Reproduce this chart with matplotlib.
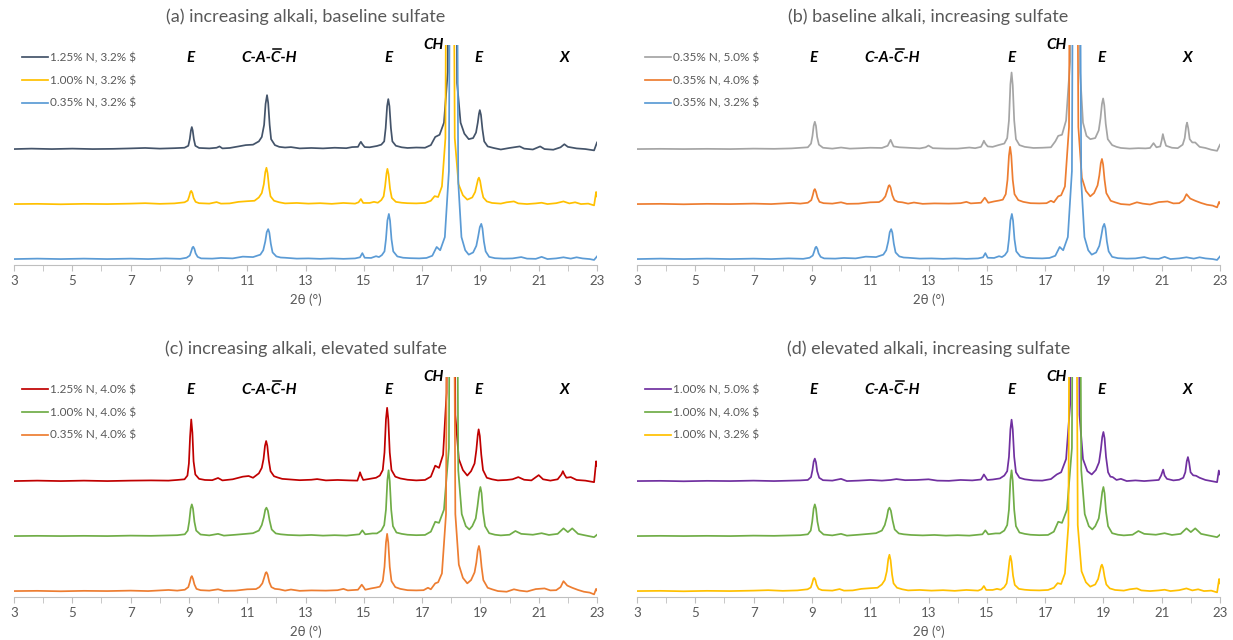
import numpy as np
import matplotlib
matplotlib.use("Agg")
import matplotlib.pyplot as plt
from matplotlib.lines import Line2D
from matplotlib.transforms import IdentityTransform
from matplotlib.font_manager import FontProperties

plt.rcParams["font.family"] = ["Lato", "DejaVu Sans"]

# intensity above each trace's own baseline (arbitrary units)
n125_s32 = [(3.0, 0.0), (3.6, 0.2), (4.3, 0.0), (5.0, 0.2), (5.7, 0.0), (6.4, 0.1), (7.0, 0.3), (7.5, 0.5),
            (8.0, 0.2), (8.5, 0.4), (8.85, 0.6), (8.98, 1.5), (9.03, 4.5), (9.07, 8.5), (9.1, 10.0), (9.13, 8.5),
            (9.17, 4.5), (9.22, 1.5), (9.35, 0.5), (9.7, 0.3), (9.95, 0.6), (10.05, 1.2), (10.15, 0.3),
            (10.4, 0.5), (10.7, 1.2), (10.95, 1.8), (11.2, 2.0), (11.4, 3.5), (11.5, 5.5), (11.58, 11.0),
            (11.63, 20.5), (11.68, 24.5), (11.72, 21.0), (11.77, 11.0), (11.82, 4.5), (11.95, 1.8), (12.1, 1.0),
            (12.3, 0.7), (12.5, 0.9), (12.8, 0.3), (13.2, 0.5), (13.6, 0.3), (14.0, 0.6), (14.4, 0.4), (14.6, 0.9),
            (14.8, 1.0), (14.86, 2.5), (14.9, 3.3), (14.95, 2.2), (15.03, 0.9), (15.2, 0.8), (15.45, 1.4),
            (15.6, 2.0), (15.7, 3.5), (15.75, 9.5), (15.8, 19.5), (15.84, 22.7), (15.88, 19.5), (15.93, 9.5),
            (15.98, 3.5), (16.1, 1.5), (16.3, 0.8), (16.5, 0.5), (16.8, 0.7), (17.1, 0.6), (17.3, 1.8),
            (17.45, 5.5), (17.6, 6.5), (17.75, 12.0), (17.88, 35.0), (17.97, 300.0), (18.1, 300.0), (18.2, 30.0),
            (18.32, 12.0), (18.45, 7.0), (18.6, 4.5), (18.75, 5.0), (18.85, 7.5), (18.91, 12.0), (18.95, 16.0),
            (18.98, 17.7), (19.02, 15.5), (19.07, 9.0), (19.13, 3.5), (19.25, 1.2), (19.45, 0.5), (19.7, -0.2),
            (20.0, 0.5), (20.35, 1.2), (20.5, 0.2), (20.8, -0.2), (21.05, 1.2), (21.2, 0.0), (21.5, -0.3),
            (21.75, 0.8), (21.88, 2.2), (22.0, 1.0), (22.3, 0.3), (22.6, 0.0), (22.9, -0.6), (23.0, 3.0)]

n100_s32 = [(3.0, 0.0), (3.8, 0.1), (4.6, -0.1), (5.4, 0.1), (6.2, 0.0), (7.0, 0.2), (7.5, 0.4), (8.0, 0.1),
            (8.5, 0.3), (8.85, 0.8), (8.96, 1.6), (9.01, 3.5), (9.05, 5.5), (9.08, 6.0), (9.12, 5.0), (9.16, 2.8),
            (9.23, 1.0), (9.35, 0.4), (9.7, 0.2), (9.95, 0.9), (10.1, 0.2), (10.4, 0.3), (10.7, 1.0), (11.0, 1.3),
            (11.25, 1.5), (11.4, 3.0), (11.5, 5.0), (11.57, 9.0), (11.62, 14.5), (11.66, 16.5), (11.7, 14.0),
            (11.75, 7.5), (11.8, 3.5), (11.92, 1.5), (12.1, 0.8), (12.3, 0.3), (12.7, 0.5), (13.1, 0.2),
            (13.5, 0.4), (13.9, 0.1), (14.3, 0.5), (14.7, 0.2), (14.82, 0.8), (14.9, 2.3), (14.98, 0.5),
            (15.2, 0.5), (15.35, 1.0), (15.48, 0.6), (15.6, 1.8), (15.68, 3.5), (15.73, 8.0), (15.78, 14.0),
            (15.81, 16.0), (15.85, 13.5), (15.9, 7.0), (15.96, 2.8), (16.1, 1.0), (16.3, 0.6), (16.5, 0.4),
            (16.8, 0.3), (17.1, 0.5), (17.3, 1.5), (17.43, 3.6), (17.55, 3.2), (17.68, 8.0), (17.8, 30.0),
            (17.88, 300.0), (18.02, 300.0), (18.12, 30.0), (18.25, 9.0), (18.4, 4.0), (18.55, 2.0), (18.72, 3.0),
            (18.82, 5.5), (18.88, 9.0), (18.92, 11.3), (18.95, 12.0), (18.99, 10.5), (19.04, 6.5), (19.1, 3.0),
            (19.22, 1.2), (19.4, 0.5), (19.7, 0.2), (19.9, 0.8), (20.15, 1.2), (20.3, 0.3), (20.6, 0.0),
            (20.9, 0.3), (21.1, 0.6), (21.3, 0.0), (21.6, 0.4), (21.85, 1.2), (22.05, 0.3), (22.25, 0.8),
            (22.45, 0.0), (22.7, 0.2), (22.9, -0.6), (22.97, 5.5), (23.0, 3.5)]

n035_s32 = [(3.0, 0.0), (3.8, 0.2), (4.6, 0.0), (5.4, 0.2), (6.2, 0.0), (7.0, 0.2), (7.6, 0.0), (8.2, 0.3),
            (8.7, 0.1), (8.92, 0.6), (9.03, 1.6), (9.08, 3.5), (9.12, 5.2), (9.15, 5.6), (9.19, 4.6), (9.23, 2.6),
            (9.3, 1.0), (9.42, 0.3), (9.8, 0.2), (10.1, 0.5), (10.5, 0.3), (10.85, 1.1), (11.2, 0.9), (11.45, 2.0),
            (11.55, 4.0), (11.62, 8.0), (11.67, 12.2), (11.72, 13.6), (11.76, 12.0), (11.81, 7.0), (11.87, 3.0),
            (12.0, 1.2), (12.15, 0.7), (12.3, 0.6), (12.7, 0.2), (13.1, 0.3), (13.5, 0.1), (13.9, 0.3),
            (14.3, 0.1), (14.7, 0.3), (14.87, 0.8), (14.95, 2.7), (15.03, 0.6), (15.25, 0.5), (15.42, 1.3),
            (15.52, 0.9), (15.62, 1.8), (15.71, 3.5), (15.76, 9.0), (15.81, 17.5), (15.86, 20.5), (15.9, 17.5),
            (15.95, 9.0), (16.01, 3.5), (16.15, 1.2), (16.35, 0.6), (16.6, 0.4), (16.9, 0.3), (17.15, 0.5),
            (17.35, 1.5), (17.5, 5.5), (17.62, 4.0), (17.78, 10.0), (17.92, 40.0), (18.0, 300.0), (18.14, 300.0),
            (18.24, 35.0), (18.35, 10.0), (18.48, 4.0), (18.6, 2.0), (18.75, 3.0), (18.86, 6.0), (18.92, 10.0),
            (18.98, 14.5), (19.03, 16.0), (19.07, 14.0), (19.12, 8.0), (19.18, 3.5), (19.3, 1.0), (19.5, 0.4),
            (19.8, 0.2), (20.1, 0.3), (20.4, 0.9), (20.6, 0.2), (20.9, 0.1), (21.1, 1.0), (21.3, 0.0),
            (21.6, 0.3), (21.85, 0.8), (22.1, 0.2), (22.3, 0.8), (22.5, 0.3), (22.75, 0.0), (22.9, -0.4),
            (23.0, 1.2)]

n035_s50 = [(3.0, 0.0), (3.8, 0.1), (4.6, 0.0), (5.4, 0.1), (6.2, 0.0), (7.0, 0.2), (7.7, 0.1), (8.3, 0.3),
            (8.86, 0.8), (8.97, 2.5), (9.02, 6.0), (9.06, 10.5), (9.1, 12.4), (9.14, 10.5), (9.18, 5.5),
            (9.24, 2.0), (9.38, 0.6), (9.7, 0.2), (10.0, 0.7), (10.3, 0.2), (10.7, 0.4), (11.0, 0.6), (11.4, 0.5),
            (11.6, 1.5), (11.7, 4.2), (11.8, 1.2), (12.0, 0.8), (12.3, 0.6), (12.7, 0.3), (12.9, 0.8), (13.0, 1.6),
            (13.15, 0.4), (13.6, 0.2), (14.0, 0.2), (14.4, 0.7), (14.6, 0.4), (14.8, 1.0), (14.86, 2.5),
            (14.9, 3.8), (14.95, 2.5), (15.03, 1.2), (15.2, 1.0), (15.4, 1.8), (15.6, 2.5), (15.7, 5.0),
            (15.76, 13.0), (15.81, 29.5), (15.85, 34.8), (15.89, 29.0), (15.94, 13.0), (16.0, 4.5), (16.12, 1.8),
            (16.3, 1.0), (16.6, 0.5), (16.9, 0.6), (17.2, 0.8), (17.35, 3.5), (17.45, 6.0), (17.58, 6.5),
            (17.72, 13.0), (17.86, 40.0), (17.96, 300.0), (18.1, 300.0), (18.2, 35.0), (18.3, 12.0), (18.42, 6.0),
            (18.55, 4.5), (18.72, 5.0), (18.84, 8.5), (18.9, 14.0), (18.95, 20.5), (18.99, 23.0), (19.03, 20.0),
            (19.08, 11.5), (19.15, 4.5), (19.3, 1.8), (19.45, 1.0), (19.6, 0.5), (19.9, 0.2), (20.2, 0.4),
            (20.45, 0.3), (20.6, 0.5), (20.72, 2.7), (20.82, 0.8), (20.95, 1.2), (21.0, 4.0), (21.04, 6.8),
            (21.08, 4.5), (21.15, 1.5), (21.35, 0.6), (21.55, 0.4), (21.72, 2.0), (21.79, 5.0), (21.84, 10.5),
            (21.87, 12.0), (21.91, 9.5), (21.96, 4.5), (22.05, 3.0), (22.15, 3.0), (22.3, 1.0), (22.5, 0.5),
            (22.7, -0.3), (22.9, -0.8), (23.0, 2.0)]

n035_s40 = [(3.0, 0.0), (3.8, 0.1), (4.6, -0.1), (5.4, 0.1), (6.2, 0.0), (7.0, 0.2), (7.6, 0.0), (8.3, 0.5),
            (8.6, 0.2), (8.86, 0.6), (8.98, 1.8), (9.03, 4.0), (9.07, 6.2), (9.1, 6.8), (9.14, 5.6), (9.19, 3.0),
            (9.26, 1.0), (9.4, 0.4), (9.7, 0.2), (10.0, 0.8), (10.2, 0.1), (10.6, 0.2), (11.0, 0.8), (11.3, 0.9),
            (11.42, 1.8), (11.52, 3.5), (11.58, 6.0), (11.63, 8.2), (11.66, 8.6), (11.7, 7.5), (11.76, 4.0),
            (11.83, 1.8), (11.95, 1.0), (12.1, 0.8), (12.3, 0.2), (12.5, 0.7), (12.8, 0.1), (13.2, 0.3),
            (13.7, 0.2), (14.1, 0.4), (14.3, 1.0), (14.45, 0.3), (14.8, 0.6), (14.88, 2.0), (14.93, 2.9),
            (14.98, 2.0), (15.05, 0.6), (15.25, 1.2), (15.42, 1.6), (15.55, 2.0), (15.65, 4.5), (15.71, 11.0),
            (15.76, 22.0), (15.8, 26.0), (15.84, 22.0), (15.89, 11.0), (15.95, 4.5), (16.08, 1.8), (16.25, 1.0),
            (16.5, 0.4), (16.8, 0.3), (17.05, 0.4), (17.2, 1.5), (17.3, 0.8), (17.45, 3.5), (17.55, 4.0),
            (17.68, 8.0), (17.82, 35.0), (17.9, 300.0), (18.04, 300.0), (18.14, 35.0), (18.26, 12.0), (18.4, 6.0),
            (18.55, 3.5), (18.68, 5.0), (18.8, 8.5), (18.86, 13.0), (18.91, 18.5), (18.95, 20.5), (18.99, 18.0),
            (19.04, 11.0), (19.1, 5.0), (19.25, 1.5), (19.4, 0.8), (19.6, 0.0), (19.9, -0.3), (20.15, 0.8),
            (20.35, 0.2), (20.6, -0.2), (20.9, 0.9), (21.2, 1.2), (21.4, 0.3), (21.6, 0.4), (21.75, 1.8),
            (21.85, 4.5), (21.98, 2.5), (22.15, 1.5), (22.35, 0.5), (22.55, -0.3), (22.75, -0.7), (22.9, -1.5),
            (22.97, 1.0), (23.0, 0.3)]

n125_s40 = [(3.0, 0.0), (3.8, 0.2), (4.6, 0.0), (5.4, 0.2), (6.2, 0.0), (7.0, 0.2), (7.7, 0.3), (8.3, 0.2),
            (8.6, 0.5), (8.85, 0.8), (8.95, 2.5), (9.0, 8.0), (9.04, 20.0), (9.08, 28.0), (9.12, 22.0),
            (9.16, 9.0), (9.22, 3.0), (9.35, 1.0), (9.55, 0.5), (9.8, 0.4), (10.0, 1.4), (10.15, 0.3), (10.5, 0.8),
            (10.85, 2.0), (11.05, 2.3), (11.2, 1.5), (11.4, 3.5), (11.5, 6.0), (11.56, 10.0), (11.61, 16.0),
            (11.65, 18.2), (11.69, 16.0), (11.74, 9.5), (11.8, 4.5), (11.92, 2.2), (12.05, 1.6), (12.2, 1.0),
            (12.5, 0.7), (12.8, 0.4), (13.2, 0.6), (13.4, 0.9), (13.7, 0.3), (14.1, 0.5), (14.5, 0.3),
            (14.78, 0.2), (14.84, 2.5), (14.87, 4.0), (14.91, 2.5), (14.98, 0.5), (15.2, 1.0), (15.42, 1.5),
            (15.55, 2.5), (15.65, 5.0), (15.71, 13.0), (15.76, 28.0), (15.8, 33.3), (15.84, 28.0), (15.89, 13.0),
            (15.95, 5.0), (16.08, 2.0), (16.25, 1.2), (16.5, 0.6), (16.8, 0.3), (17.1, 0.5), (17.3, 2.0),
            (17.45, 7.0), (17.58, 6.0), (17.72, 12.0), (17.84, 40.0), (17.92, 300.0), (18.04, 300.0),
            (18.14, 30.0), (18.26, 10.0), (18.4, 5.0), (18.55, 2.5), (18.68, 4.5), (18.8, 8.0), (18.86, 14.0),
            (18.91, 21.0), (18.94, 23.5), (18.98, 20.5), (19.03, 12.0), (19.09, 5.0), (19.22, 1.5), (19.4, 0.8),
            (19.6, 0.3), (19.9, 0.5), (20.1, 0.8), (20.3, 1.8), (20.5, 0.6), (20.75, 0.3), (21.0, 2.7),
            (21.15, 0.8), (21.4, 0.2), (21.65, 0.8), (21.78, 3.0), (21.83, 4.5), (21.88, 3.0), (21.95, 1.5),
            (22.1, 1.8), (22.3, 0.5), (22.6, 0.2), (22.9, -0.5), (22.97, 9.0), (23.0, 7.0)]

n100_s40 = [(3.0, 0.0), (3.8, 0.1), (4.6, 0.0), (5.4, 0.1), (6.2, 0.0), (7.0, 0.2), (7.7, 0.1), (8.3, 0.3),
            (8.6, 0.4), (8.86, 0.8), (8.96, 2.5), (9.01, 6.5), (9.06, 12.5), (9.1, 14.4), (9.14, 12.5),
            (9.19, 6.5), (9.25, 2.5), (9.4, 0.7), (9.7, 0.3), (10.0, 1.0), (10.2, 0.2), (10.6, 0.6), (10.95, 1.0),
            (11.2, 1.3), (11.4, 2.5), (11.5, 5.0), (11.57, 8.5), (11.62, 12.0), (11.66, 12.9), (11.71, 11.5),
            (11.77, 7.0), (11.84, 3.0), (11.98, 1.2), (12.15, 0.8), (12.4, 0.5), (12.8, 0.3), (13.2, 0.5),
            (13.6, 0.2), (14.0, 0.4), (14.4, 0.2), (14.85, 0.8), (14.95, 2.6), (15.05, 0.8), (15.3, 1.2),
            (15.45, 1.2), (15.6, 2.5), (15.7, 5.0), (15.76, 12.0), (15.81, 25.5), (15.85, 29.9), (15.89, 25.0),
            (15.94, 12.0), (16.0, 4.5), (16.12, 1.6), (16.3, 1.0), (16.5, 0.6), (16.8, 0.4), (17.1, 0.5),
            (17.3, 2.0), (17.45, 6.5), (17.58, 6.0), (17.75, 12.0), (17.92, 40.0), (18.0, 300.0), (18.14, 300.0),
            (18.24, 30.0), (18.36, 10.0), (18.5, 4.5), (18.62, 3.0), (18.72, 4.5), (18.84, 8.0), (18.9, 13.5),
            (18.96, 20.0), (19.0, 22.3), (19.04, 19.5), (19.09, 11.0), (19.16, 4.5), (19.3, 1.3), (19.5, 0.6),
            (19.7, 0.3), (20.0, 0.6), (20.2, 2.3), (20.4, 1.0), (20.6, 0.8), (20.8, 0.6), (21.1, 1.3),
            (21.35, 0.5), (21.65, 1.0), (21.85, 3.5), (22.0, 1.8), (22.15, 3.5), (22.35, 1.0), (22.6, 0.3),
            (22.9, -0.5), (23.0, 0.6)]

n100_s50 = [(3.0, 0.0), (3.8, 0.1), (4.6, -0.1), (5.4, 0.1), (6.2, 0.0), (7.0, 0.2), (7.7, 0.0), (8.3, 0.2),
            (8.6, 0.3), (8.86, 0.5), (8.97, 1.8), (9.02, 5.0), (9.06, 8.8), (9.1, 10.2), (9.14, 8.5), (9.18, 4.5),
            (9.25, 1.5), (9.38, 0.4), (9.7, 0.2), (10.0, 1.0), (10.2, 0.0), (10.6, 0.2), (11.0, 0.5), (11.4, 0.2),
            (11.7, 0.5), (11.9, 0.9), (12.2, 0.4), (12.6, 0.5), (13.0, 0.8), (13.3, 0.2), (13.7, 0.1), (14.1, 0.5),
            (14.5, 0.3), (14.8, 0.7), (14.86, 2.0), (14.9, 3.0), (14.95, 2.0), (15.02, 0.5), (15.2, 0.7),
            (15.45, 1.2), (15.6, 2.5), (15.7, 4.5), (15.76, 11.0), (15.81, 23.5), (15.85, 27.9), (15.89, 23.5),
            (15.94, 11.0), (16.0, 4.0), (16.12, 1.5), (16.3, 0.8), (16.6, 0.3), (16.9, 0.2), (17.2, 0.9),
            (17.4, 3.0), (17.55, 4.0), (17.72, 10.0), (17.86, 35.0), (17.94, 300.0), (18.08, 300.0),
            (18.18, 30.0), (18.3, 10.0), (18.45, 4.5), (18.6, 3.0), (18.74, 5.0), (18.85, 8.5), (18.91, 14.0),
            (18.96, 20.0), (19.0, 22.3), (19.04, 19.5), (19.09, 11.0), (19.16, 4.0), (19.24, 2.0), (19.32, 1.8),
            (19.45, 0.5), (19.6, 1.0), (19.8, 0.0), (20.1, 0.3), (20.4, 0.0), (20.7, 0.3), (20.9, 0.5),
            (20.98, 2.5), (21.05, 5.2), (21.1, 2.5), (21.18, 1.0), (21.4, 0.3), (21.6, 0.6), (21.74, 1.5),
            (21.81, 4.0), (21.86, 9.0), (21.9, 10.9), (21.94, 8.5), (21.99, 4.0), (22.08, 2.6), (22.18, 2.4),
            (22.3, 1.5), (22.5, 0.5), (22.7, 0.0), (22.9, -0.5), (22.96, 4.8), (23.0, 3.0)]

titles = ["(a) increasing alkali, baseline sulfate", "(b) baseline alkali, increasing sulfate",
          "(c) increasing alkali, elevated sulfate", "(d) elevated alkali, increasing sulfate"]
series = [
    [(n125_s32, "1.25% N, 3.2% $"), (n100_s32, "1.00% N, 3.2% $"), (n035_s32, "0.35% N, 3.2% $")],
    [(n035_s50, "0.35% N, 5.0% $"), (n035_s40, "0.35% N, 4.0% $"), (n035_s32, "0.35% N, 3.2% $")],
    [(n125_s40, "1.25% N, 4.0% $"), (n100_s40, "1.00% N, 4.0% $"), (n035_s40, "0.35% N, 4.0% $")],
    [(n100_s50, "1.00% N, 5.0% $"), (n100_s40, "1.00% N, 4.0% $"), (n100_s32, "1.00% N, 3.2% $")],
]
colors = [["#44546A", "#FFC000", "#5B9BD5"], ["#A5A5A5", "#ED7D31", "#5B9BD5"],
          ["#C00000", "#70AD47", "#ED7D31"], ["#7030A0", "#70AD47", "#FFC000"]]
peak_pos = [9.05, 11.75, 15.85, 17.4, 18.92, 21.9]
peak_lab = ["E", "C-A-C-H", "E", "CH", "E", "X"]
offsets = [52.7, 27.7, 2.7]

GREY = "#595959"
W, H = 1233, 640
fig = plt.figure(figsize=(W / 100, H / 100), dpi=100)
lefts = [14, 637, 14, 637]
tops = [45, 45, 377, 377]
lab_font = dict(fontsize=11, fontweight="bold", fontstyle="italic", color="black")
cach_texts = []

for i in range(4):
    ax = fig.add_axes([lefts[i] / W, 1 - (tops[i] + 220) / H, 583 / W, 220 / H])
    for (tr, lab), col, off in zip(series[i], colors[i], offsets):
        arr = np.array(tr)
        ax.plot(arr[:, 0], arr[:, 1] + off, color=col, lw=1.25, label=lab)
    ax.set_xlim(3, 23)
    ax.set_ylim(0, 100)
    for s in ("top", "left", "right"):
        ax.spines[s].set_visible(False)
    ax.spines["bottom"].set_color("#BFBFBF")
    ax.set_yticks([])
    ax.set_xticks(range(3, 24, 2))
    ax.set_xticks(range(4, 23, 2), minor=True)
    ax.tick_params(axis="x", which="both", length=4, color="#BFBFBF", labelcolor=GREY,
                   labelsize=9.5, pad=3)
    ax.set_xlabel("2θ (°)", color=GREY, fontsize=9.5, labelpad=5)
    ax.text(0.5, 1 + 28 / 220, titles[i], transform=ax.transAxes, ha="center", va="center",
            color=GREY, fontsize=13)
    for x, t in zip(peak_pos, peak_lab):
        y = 100 if t == "CH" else 94
        txt = ax.text(x, y, t, ha="center", va="center", **lab_font)
        if t == "C-A-C-H":
            cach_texts.append(txt)
    leg = ax.legend(loc="upper left", bbox_to_anchor=(8 / 583, 1 - 7 / 220), frameon=False,
                    fontsize=8.5, handlelength=2.2, handletextpad=0.2, labelspacing=1.0,
                    borderpad=0, borderaxespad=0)
    for t in leg.get_texts():
        t.set_color(GREY)

# bar over the second C of C-A-C-H
fig.canvas.draw()
rend = fig.canvas.get_renderer()
fp = FontProperties(family=["Lato", "DejaVu Sans"], size=11, weight="bold", style="italic")
w_pre = rend.get_text_width_height_descent("C-A-", fp, ismath=False)[0]
w_c = rend.get_text_width_height_descent("C", fp, ismath=False)[0]
for txt in cach_texts:
    bb = txt.get_window_extent(rend)
    x0 = bb.x0 + w_pre + 1.5
    yb = (bb.y0 + bb.y1) / 2 + 9
    fig.add_artist(Line2D([x0, x0 + w_c - 1], [yb, yb], transform=IdentityTransform(),
                          color="black", lw=1.1))

fig.savefig("out.png", dpi=100)
